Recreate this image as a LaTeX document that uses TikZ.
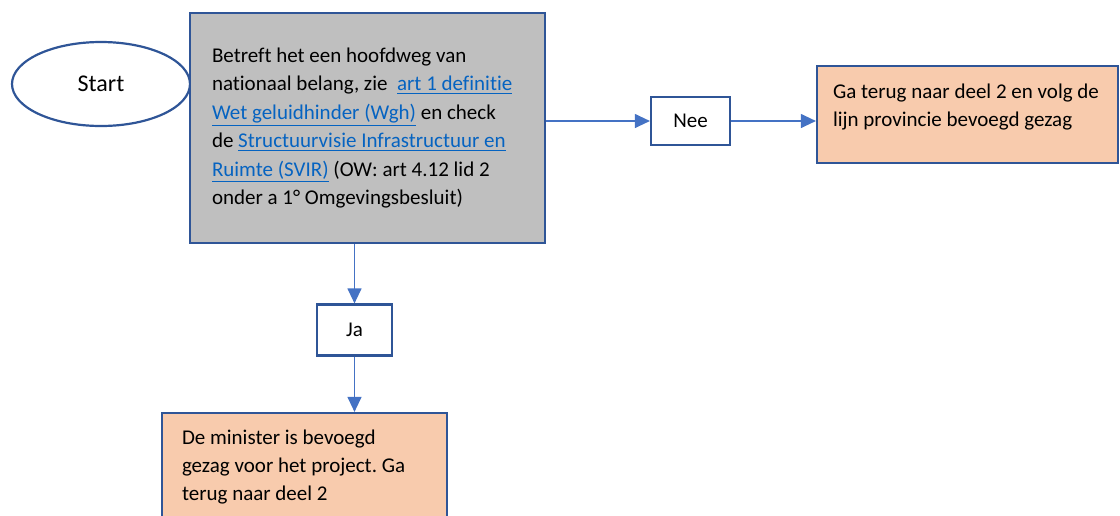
\documentclass[tikz,border=0pt]{standalone}
\usepackage{fontspec}
\setmainfont{Carlito}[Ligatures=NoCommon]
\usetikzlibrary{shapes.geometric,arrows.meta}

\definecolor{randblauw}{HTML}{2F5597}
\definecolor{pijlblauw}{HTML}{4472C4}
\definecolor{linkblauw}{HTML}{0563C1}
\definecolor{grijs}{HTML}{BFBFBF}
\definecolor{oranje}{HTML}{F8CBAD}

\newcommand{\koppeling}[1]{\textcolor{linkblauw}{\underline{#1}}}

\begin{document}
\frenchspacing
\begin{tikzpicture}[x=0.5pt,y=-0.5pt,
    kader/.style={draw=randblauw, line width=1.1pt, align=flush left,
        font=\fontsize{10.5}{14.2}\selectfont},
    pijl/.style={draw=pijlblauw, line width=0.6pt,
        -{Triangle[length=7.5pt,width=7pt]}},
    keuze/.style={kader, fill=white, align=center, inner sep=0pt}]
    \useasboundingbox (0,0) rectangle (1120,515);

    % start en vraag
    \node[kader, ellipse, fill=white, align=center, inner sep=0pt,
        font=\fontsize{12}{14}\selectfont,
        minimum width=89pt, minimum height=42pt] (start) at (101,84) {Start};
    \node[kader, fill=grijs, inner xsep=11pt, text width=155.5pt,
        minimum height=115pt] (vraag) at (367.5,128) {%
        Betreft het een hoofdweg van\\
        nationaal belang, zie\ \ \koppeling{art 1 definitie}\\
        \koppeling{Wet geluidhinder (Wgh)} en check\\
        de \koppeling{Structuurvisie Infrastructuur en}\\
        \koppeling{Ruimte (SVIR)} (OW: art 4.12 lid 2\\
        onder a 1° Omgevingsbesluit)};

    % antwoorden
    \node[keuze, minimum width=39.5pt, minimum height=24pt] (nee) at (690.5,121) {Nee};
    \node[keuze, minimum width=37.5pt, minimum height=25.5pt] (ja) at (354.5,330) {Ja};

    % uitkomsten
    \node[kader, fill=oranje, inner xsep=8pt, text width=134.5pt,
        text depth=23.5pt, minimum height=48.5pt] (terug) at (967.5,114.5) {%
        Ga terug naar deel 2 en volg de\\
        lijn provincie bevoegd gezag};
    \node[kader, fill=oranje, inner xsep=10pt, text width=122.5pt,
        minimum height=54pt] (minister) at (304.5,467) {%
        De minister is bevoegd\\
        gezag voor het project. Ga\\
        terug naar deel 2};

    % pijlen
    \draw[pijl] (vraag.east |- nee.west) -- (nee.west);
    \draw[pijl] (nee.east) -- (nee.east -| terug.west);
    \draw[pijl] (vraag.south -| ja.north) -- (ja.north);
    \draw[pijl] (ja.south) -- (ja.south |- minister.north);
\end{tikzpicture}
\end{document}
